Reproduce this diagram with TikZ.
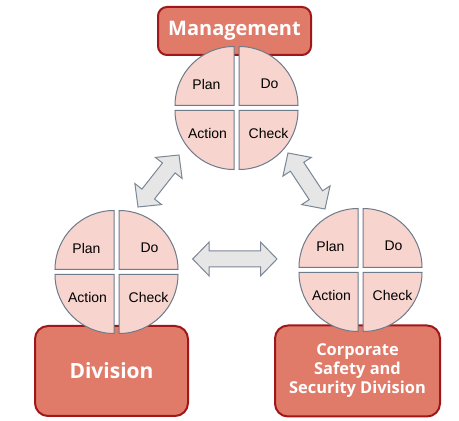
\documentclass[tikz,border=0pt]{standalone}
\usepackage{fontspec}
\setmainfont{Liberation Sans}
\newfontfamily\unitfont{Open Sans}
\usetikzlibrary{calc}
\definecolor{boxfill}{HTML}{E07B6A}
\definecolor{boxline}{HTML}{A0171A}
\definecolor{quadfill}{HTML}{F7D4CE}
\definecolor{quadline}{HTML}{6E7B8B}
\definecolor{arrowfill}{HTML}{E6E6E6}
\definecolor{arrowline}{HTML}{7A8797}

\begin{document}
\begin{tikzpicture}[x=1pt,y=1pt,
    unit box/.style={draw=boxline,fill=boxfill,line width=2pt,text=white,align=center,inner sep=0pt},
    quad/.style={draw=quadline,fill=quadfill,line width=1pt},
    quad label/.style={font=\fontsize{14}{16}\selectfont},
    block arrow/.style={draw=arrowline,fill=arrowfill,line width=1pt,line join=miter}]
  \useasboundingbox (0,0) rectangle (459,421);
  % the three units
  \node[unit box,rounded corners=9pt,minimum width=153pt,minimum height=48pt,
        font=\unitfont\bfseries\fontsize{20}{24}\selectfont] (mgmt) at (234.5,390) {Management};
  \node[unit box,rounded corners=13pt,minimum width=153pt,minimum height=90pt,
        font=\unitfont\bfseries\fontsize{21}{24}\selectfont] (div) at (111.5,50) {Division};
  \node[unit box,rounded corners=13pt,minimum width=165pt,minimum height=91pt,
        font=\unitfont\bfseries\fontsize{16.4}{19}\selectfont] (corp) at (357.5,50)
        {Corporate\\Safety and\\Security Division};
  % PDCA circles
  \foreach \cx/\cy/\nm in {236.5/313/m, 116.5/149/d, 360.5/151/c} {
    \coordinate (\nm) at (\cx,\cy);
    \draw[quad] ($(\nm)+(-2.5,2.5)$) -- ++(-59,0) arc[start angle=180,end angle=90,radius=59] -- cycle;
    \draw[quad] ($(\nm)+(2.5,2.5)$) -- ++(0,59) arc[start angle=90,end angle=0,radius=59] -- cycle;
    \draw[quad] ($(\nm)+(-2.5,-2.5)$) -- ++(-59,0) arc[start angle=180,end angle=270,radius=59] -- cycle;
    \draw[quad] ($(\nm)+(2.5,-2.5)$) -- ++(59,0) arc[start angle=0,end angle=-90,radius=59] -- cycle;
    \node[quad label] (\nm-plan) at ($(\nm)+(-30,24)$) {Plan};
    \node[quad label] (\nm-do) at ($(\nm)+(33,24)$) {Do};
    \node[quad label] (\nm-action) at ($(\nm)+(-29,-25)$) {Action};
    \node[quad label] (\nm-check) at ($(\nm)+(32,-25)$) {Check};
  }
  % arrow ends
  \coordinate (dm) at (138,214);
  \coordinate (md) at (179,266);
  \coordinate (mc) at (288,268);
  \coordinate (cm) at (325,212);
  \coordinate (dc) at (192.7,162);
  \coordinate (cd) at (277,162);
  \foreach \a/\b in {dm/md, mc/cm, dc/cd} {
    \draw[block arrow] let \p1=($(\b)-(\a)$), \n1={atan2(\y1,\x1)} in
      (\a) -- ($(\a)+(\n1:16.5pt)+(\n1+90:17pt)$) -- ($(\a)+(\n1:16.5pt)+(\n1+90:8pt)$)
      -- ($(\b)+(\n1+180:16.5pt)+(\n1+90:8pt)$) -- ($(\b)+(\n1+180:16.5pt)+(\n1+90:17pt)$)
      -- (\b) -- ($(\b)+(\n1+180:16.5pt)+(\n1-90:17pt)$) -- ($(\b)+(\n1+180:16.5pt)+(\n1-90:8pt)$)
      -- ($(\a)+(\n1:16.5pt)+(\n1-90:8pt)$) -- ($(\a)+(\n1:16.5pt)+(\n1-90:17pt)$) -- cycle;
  }
\end{tikzpicture}
\end{document}
